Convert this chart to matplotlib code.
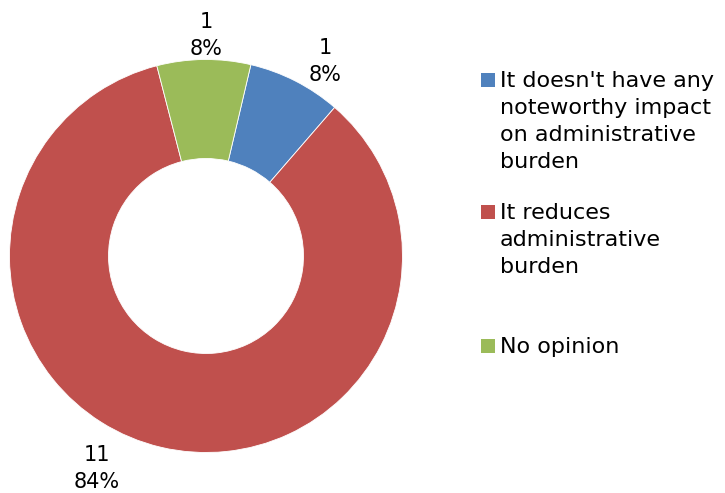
import matplotlib
matplotlib.use("Agg")
import matplotlib.pyplot as plt
from matplotlib.patches import Rectangle

plt.rcParams['font.family'] = ['DejaVu Sans']

categories = ["It doesn't have any\nnoteworthy impact\non administrative\nburden",
              "It reduces\nadministrative\nburden",
              "No opinion"]
values = [1, 11, 1]
percent_labels = ["8%", "84%", "8%"]
colors = ["#4F81BD", "#C0504D", "#9BBB59"]

W, H = 725, 493
fig = plt.figure(figsize=(W / 100, H / 100), dpi=100)
ax = fig.add_axes([0, 0, 1, 1])

cx, cy = 206, H - 256
R = 196.5
ring = 99

wedges, _ = ax.pie(values, colors=colors, startangle=76.8, counterclock=False,
                   center=(cx, cy), radius=R,
                   wedgeprops=dict(width=ring, edgecolor='white', linewidth=0.6),
                   frame=True)
ax.set_xlim(0, W)
ax.set_ylim(0, H)
ax.set_aspect('equal')
ax.axis('off')

# data labels (value + percent), positions in pixel coordinates (top origin)
label_pos = [(325, 54), (97, 461), (206, 28)]
fs = 15
line_h = 27
for (x, yb), v, p in zip(label_pos, values, percent_labels):
    ax.text(x, H - yb, str(v), ha='center', va='baseline', fontsize=fs, color='black')
    ax.text(x, H - yb - line_h, p, ha='center', va='baseline', fontsize=fs, color='black')

# legend, drawn manually
leg_baselines = [87, 219, 353]
for base, lab, col in zip(leg_baselines, categories, colors):
    ax.add_patch(Rectangle((481, H - base), 14, 14, facecolor=col, edgecolor='none'))
    for i, line in enumerate(lab.split("\n")):
        ax.text(500, H - base - i * line_h, line, ha='left', va='baseline',
                fontsize=16, color='black')

fig.savefig("out.png", dpi=100)
